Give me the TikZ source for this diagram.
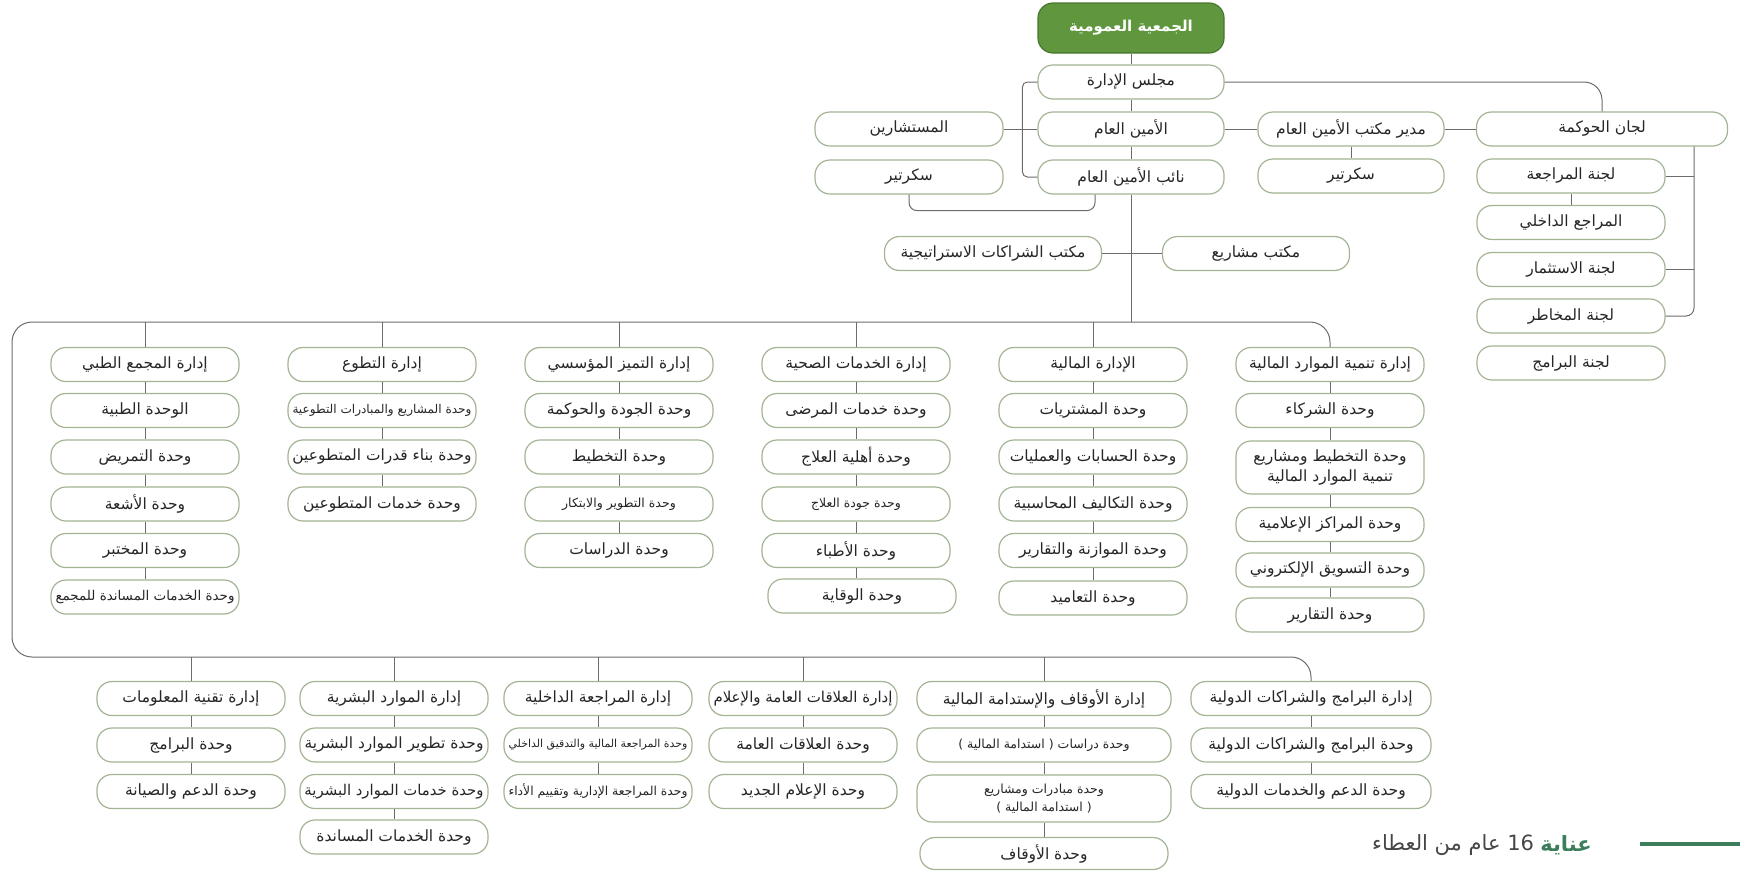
\documentclass[tikz,border=0pt]{standalone}
\usepackage{fontspec}
\usepackage{graphicx}
\usetikzlibrary{calc}
\newfontfamily\arabicfont[Script=Arabic]{DejaVu Sans}
\TeXXeTstate=1
\definecolor{boxline}{RGB}{163,180,148}
\definecolor{linegray}{RGB}{108,108,108}
\definecolor{txt}{RGB}{38,38,38}
\definecolor{topgreen}{RGB}{96,150,62}
\definecolor{topgreenline}{RGB}{72,118,46}
\definecolor{brandgreen}{RGB}{60,126,92}
\definecolor{brandtxt}{RGB}{70,70,70}
\newsavebox\fitbox
\newlength\fitwd
\newcommand\fitar[2]{%
  \sbox\fitbox{#2}%
  \setlength\fitwd{#1pt}\addtolength\fitwd{-9pt}%
  \ifdim\wd\fitbox>\fitwd\resizebox{\fitwd}{!}{\usebox\fitbox}\else\usebox\fitbox\fi}
\newcommand\bx[6][]{\node[box,minimum width=#3pt,#1] (#2) at (#4,#5) {\fitar{#3}{#6}};}
\newcommand\bxx[7][]{\node[box,minimum width=#3pt,align=center,#1] (#2) at (#4,#5) {\fitar{#3}{#6}\\[3pt]\fitar{#3}{#7}};}
\tikzset{
  box/.style={draw=boxline, fill=white, line width=1.2pt, rounded corners=15pt,
    minimum height=34pt, inner sep=1pt, text=txt,
    font=\arabicfont\fontsize{15.5}{17}\selectfont},
  small/.style={font=\arabicfont\fontsize{12.5}{14.5}\selectfont},
  conn/.style={draw=linegray, line width=1pt},
}
\begin{document}
\begin{tikzpicture}[x=1pt,y=-1pt]
\useasboundingbox (0,0) rectangle (1740,870);
% ---------- top part ----------
\node[box, fill=topgreen, draw=topgreenline, text=white, minimum width=186pt, minimum height=50pt,
  font=\arabicfont\bfseries\fontsize{15}{17}\selectfont] (g0) at (1131,28) {\fitar{186}{\beginR الجمعية العمومية\endR}};
\bx{m}{186}{1131}{82}{\beginR مجلس الإدارة\endR}
\bx{amin}{186}{1131}{129}{\beginR الأمين العام\endR}
\bx{naib}{186}{1131}{177}{\beginR نائب الأمين العام\endR}
\bx{must}{188}{909}{129}{\beginR المستشارين\endR}
\bx{sec1}{188}{909}{177}{\beginR سكرتير\endR}
\bx{mudir}{186}{1351}{129}{\beginR مدير مكتب الأمين العام\endR}
\bx{sec2}{186}{1351}{176}{\beginR سكرتير\endR}
\bx{lijan}{251}{1602}{129}{\beginR لجان الحوكمة\endR}
\bx{lj1}{188}{1571}{176}{\beginR لجنة المراجعة\endR}
\bx{lj2}{188}{1571}{222.5}{\beginR المراجع الداخلي\endR}
\bx{lj3}{188}{1571}{269.5}{\beginR لجنة الاستثمار\endR}
\bx{lj4}{188}{1571}{316}{\beginR لجنة المخاطر\endR}
\bx{lj5}{188}{1571}{363}{\beginR لجنة البرامج\endR}
\bx{shrk}{217}{993}{253.5}{\beginR مكتب الشراكات الاستراتيجية\endR}
\bx{mash}{187}{1256}{253.5}{\beginR مكتب مشاريع\endR}
% ---------- upper departments ----------
\bx{A1}{188}{1330}{364.5}{\beginR إدارة تنمية الموارد المالية\endR}
\bx{A2}{188}{1330}{410.5}{\beginR وحدة الشركاء\endR}
\bxx[minimum height=53pt]{A3}{188}{1330}{467.5}{\beginR وحدة التخطيط ومشاريع\endR}{\beginR تنمية الموارد المالية\endR}
\bx{A4}{188}{1330}{524.5}{\beginR وحدة المراكز الإعلامية\endR}
\bx{A5}{188}{1330}{570}{\beginR وحدة التسويق الإلكتروني\endR}
\bx{A6}{188}{1330}{615}{\beginR وحدة التقارير\endR}
\bx{B1}{188}{1093}{364.5}{\beginR الإدارة المالية\endR}
\bx{B2}{188}{1093}{410.5}{\beginR وحدة المشتريات\endR}
\bx{B3}{188}{1093}{457}{\beginR وحدة الحسابات والعمليات\endR}
\bx{B4}{188}{1093}{504}{\beginR وحدة التكاليف المحاسبية\endR}
\bx{B5}{188}{1093}{550.5}{\beginR وحدة الموازنة والتقارير\endR}
\bx{B6}{188}{1093}{598}{\beginR وحدة التعاميد\endR}
\bx{C1}{188}{856}{364.5}{\beginR إدارة الخدمات الصحية\endR}
\bx{C2}{188}{856}{410.5}{\beginR وحدة خدمات المرضى\endR}
\bx{C3}{188}{856}{457}{\beginR وحدة أهلية العلاج\endR}
\bx[small]{C4}{188}{856}{504}{\beginR وحدة جودة العلاج\endR}
\bx{C5}{188}{856}{550.5}{\beginR وحدة الأطباء\endR}
\bx{C6}{188}{862}{596}{\beginR وحدة الوقاية\endR}
\bx{D1}{188}{619}{364.5}{\beginR إدارة التميز المؤسسي\endR}
\bx{D2}{188}{619}{410.5}{\beginR وحدة الجودة والحوكمة\endR}
\bx{D3}{188}{619}{457}{\beginR وحدة التخطيط\endR}
\bx[small]{D4}{188}{619}{504}{\beginR وحدة التطوير والابتكار\endR}
\bx{D5}{188}{619}{550.5}{\beginR وحدة الدراسات\endR}
\bx{E1}{188}{382}{364.5}{\beginR إدارة التطوع\endR}
\bx{E2}{188}{382}{410.5}{\beginR وحدة المشاريع والمبادرات التطوعية\endR}
\bx{E3}{188}{382}{457}{\beginR وحدة بناء قدرات المتطوعين\endR}
\bx{E4}{188}{382}{504}{\beginR وحدة خدمات المتطوعين\endR}
\bx{F1}{188}{145}{364.5}{\beginR إدارة المجمع الطبي\endR}
\bx{F2}{188}{145}{410.5}{\beginR الوحدة الطبية\endR}
\bx{F3}{188}{145}{457}{\beginR وحدة التمريض\endR}
\bx{F4}{188}{145}{504}{\beginR وحدة الأشعة\endR}
\bx{F5}{188}{145}{550.5}{\beginR وحدة المختبر\endR}
\bx{F6}{188}{145}{597}{\beginR وحدة الخدمات المساندة للمجمع\endR}
% ---------- lower departments ----------
\bx{G1}{240}{1311}{698.5}{\beginR إدارة البرامج والشراكات الدولية\endR}
\bx{G2}{240}{1311}{745}{\beginR وحدة البرامج والشراكات الدولية\endR}
\bx{G3}{240}{1311}{791.5}{\beginR وحدة الدعم والخدمات الدولية\endR}
\bx{H1}{254}{1044}{698.5}{\beginR إدارة الأوقاف والإستدامة المالية\endR}
\bx[small]{H2}{254}{1044}{745}{\beginR وحدة دراسات ( استدامة المالية )\endR}
\bxx[small,minimum height=47pt]{H3}{254}{1044}{798.5}{\beginR وحدة مبادرات ومشاريع\endR}{\beginR ( استدامة المالية )\endR}
\bx[minimum height=32pt]{H4}{248}{1044}{853.5}{\beginR وحدة الأوقاف\endR}
\bx{I1}{188}{803}{698.5}{\beginR إدارة العلاقات العامة والإعلام\endR}
\bx{I2}{188}{803}{745}{\beginR وحدة العلاقات العامة\endR}
\bx{I3}{188}{803}{791.5}{\beginR وحدة الإعلام الجديد\endR}
\bx{J1}{188}{598}{698.5}{\beginR إدارة المراجعة الداخلية\endR}
\bx{J2}{188}{598}{745}{\beginR وحدة المراجعة المالية والتدقيق الداخلي\endR}
\bx{J3}{188}{598}{791.5}{\beginR وحدة المراجعة الإدارية وتقييم الأداء\endR}
\bx{K1}{188}{394}{698.5}{\beginR إدارة الموارد البشرية\endR}
\bx{K2}{188}{394}{745}{\beginR وحدة تطوير الموارد البشرية\endR}
\bx{K3}{188}{394}{791.5}{\beginR وحدة خدمات الموارد البشرية\endR}
\bx{K4}{188}{394}{837}{\beginR وحدة الخدمات المساندة\endR}
\bx{L1}{188}{191}{698.5}{\beginR إدارة تقنية المعلومات\endR}
\bx{L2}{188}{191}{745}{\beginR وحدة البرامج\endR}
\bx{L3}{188}{191}{791.5}{\beginR وحدة الدعم والصيانة\endR}
% ---------- connectors: top ----------
\draw[conn] (g0) -- (m);
\draw[conn] (m) -- (amin);
\draw[conn] (amin) -- (naib);
\draw[conn, rounded corners=5pt] (m.west) -- ++(-15,0) |- (naib.west);
\draw[conn] (must.east) -- (amin.west);
\draw[conn, rounded corners=8pt] (sec1.south) -- ++(0,16) -| ([xshift=-36pt]naib.south);
\draw[conn] (amin.east) -- (mudir.west);
\draw[conn] (mudir.east) -- (lijan.west);
\draw[conn] (mudir) -- (sec2);
\draw[conn, rounded corners=18pt] (m.east) -| (lijan.north);
\coordinate (lv) at ([xshift=92pt]lijan.south);
\draw[conn] (lj1.east) -- (lj1.east -| lv);
\draw[conn] (lj3.east) -- (lj3.east -| lv);
\draw[conn, rounded corners=8pt] (lv) |- (lj4.east);
\draw[conn] (lj1) -- (lj2);
\draw[conn] (shrk.east) -- (mash.west);
% ---------- buses ----------
\coordinate (tl) at (12,322);
\coordinate (bl) at (12,657);
\draw[conn] (naib.south) -- (naib.south |- tl);
\draw[conn, rounded corners=20pt] (A1.north) |- (tl) -- (bl) -| (G1.north);
\foreach \c in {B1,C1,D1,E1,F1}{\draw[conn] (\c.north) -- (\c.north |- tl);}
\foreach \c in {H1,I1,J1,K1,L1}{\draw[conn] (\c.north) -- (\c.north |- bl);}
% ---------- columns ----------
\foreach \a/\b in {A1/A2,A2/A3,A3/A4,A4/A5,A5/A6,B1/B2,B2/B3,B3/B4,B4/B5,B5/B6,
  C1/C2,C2/C3,C3/C4,C4/C5,D1/D2,D2/D3,D3/D4,D4/D5,E1/E2,E2/E3,E3/E4,
  F1/F2,F2/F3,F3/F4,F4/F5,F5/F6,G1/G2,G2/G3,H1/H2,H2/H3,H3/H4,I1/I2,I2/I3,
  J1/J2,J2/J3,K1/K2,K2/K3,K3/K4,L1/L2,L2/L3}{\draw[conn] (\a.south) -- (\b.north);}
\draw[conn] (C5.south) -- (C5.south |- C6.north);
% ---------- brand ----------
\node[font=\arabicfont\bfseries\fontsize{21}{24}\selectfont, text=brandgreen, inner sep=0pt, anchor=east]
  (brandA) at (1592,845) {\beginR عناية\endR};
\node[font=\arabicfont\fontsize{21}{24}\selectfont, text=brandtxt, inner sep=0pt, anchor=east]
  (brandB) at ([xshift=-6pt]brandA.west) {\beginR\beginL 16\endL{} عام من العطاء\endR};
\coordinate (gl1) at (1640,844);
\coordinate (gl2) at (1740,844);
\draw[brandgreen, line width=4pt] (gl1) -- (gl2);
\end{tikzpicture}
\end{document}
